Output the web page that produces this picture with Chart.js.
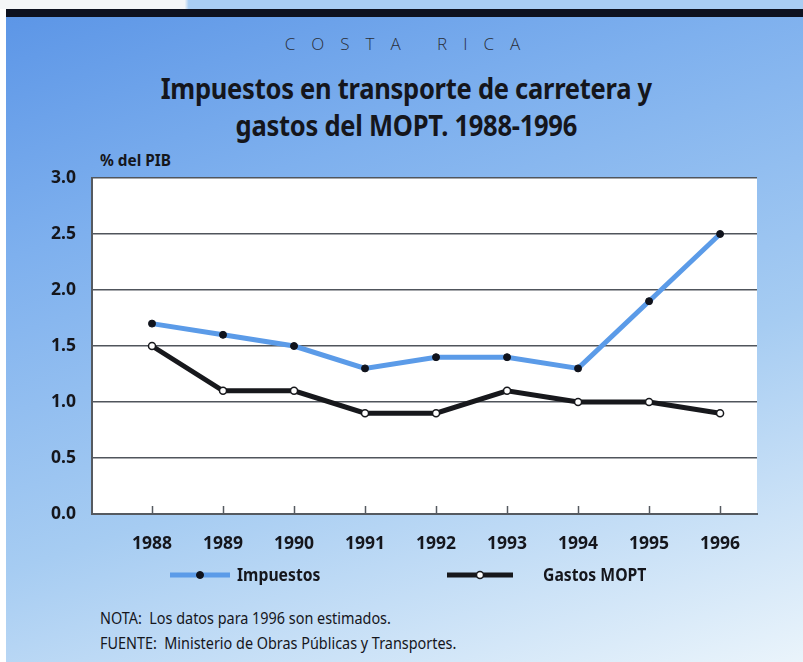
<!DOCTYPE html>
<html>
<head>
<meta charset="utf-8">
<script src="https://cdn.jsdelivr.net/npm/chart.js@4"></script>
<style>
  html, body { margin: 0; padding: 0; }
  body {
    width: 803px; height: 662px; position: relative; overflow: hidden;
    background: #ffffff;
    font-family: "Noto Sans", sans-serif;
  }
  #panel {
    position: absolute; left: 6px; top: 0; width: 797px; height: 662px;
    background: linear-gradient(162deg, #5a94e6 0%, #7eb0ee 28%, #a6ccf2 62%, #eaf4fb 100%);
  }
  #topstrip { position: absolute; left: 0; top: 0; width: 803px; height: 9px;
    background: linear-gradient(90deg, #f4f6f8 0%, #f4f6f8 23%, #a9cdf3 23.5%, #a9cdf3 100%); }
  #band { position: absolute; left: 6px; top: 9px; width: 797px; height: 8px; background: #0e1220; }
  .txt { position: absolute; white-space: nowrap; color: #15161c; }
  #country { left: 9px; width: 803px; top: 32px; text-align: center; font-family: "Open Sans", sans-serif;
    font-weight: 300; font-size: 17px; letter-spacing: 16px; color: #2a2e38; }
  #title { left: 4px; width: 803px; top: 69px; text-align: center; font-weight: bold; font-size: 29px;
    line-height: 37px; letter-spacing: -0.3px; transform: scaleX(0.88); transform-origin: 408px 0; }
  #unit { left: 100px; top: 149px; font-weight: bold; font-size: 16px; transform: scaleX(0.96); transform-origin: 0 0; }
  #notes { left: 100px; top: 606px; font-size: 16px; line-height: 25px; transform: scaleX(0.9); transform-origin: 0 0; }
  canvas { position: absolute; left: 0; top: 0; }
</style>
</head>
<body>
<div id="panel"></div>
<div id="topstrip"></div>
<div id="band"></div>
<div class="txt" id="country">COSTA RICA</div>
<div class="txt" id="title">Impuestos en transporte de carretera y<br>gastos del MOPT. 1988-1996</div>
<div class="txt" id="unit">% del PIB</div>
<div class="txt" id="notes">NOTA:&nbsp; Los datos para 1996 son estimados.<br>FUENTE:&nbsp; Ministerio de Obras Públicas y Transportes.</div>
<div style="position:absolute;left:0;top:0;width:803px;height:662px;">
  <canvas id="chart" width="803" height="662"></canvas>
</div>
<script>
document.addEventListener("DOMContentLoaded", function () {

    const years = [1988, 1989, 1990, 1991, 1992, 1993, 1994, 1995, 1996];
    const impuestos = [1.7, 1.6, 1.5, 1.3, 1.4, 1.4, 1.3, 1.9, 2.5];
    const gastosMopt = [1.5, 1.1, 1.1, 0.9, 0.9, 1.1, 1.0, 1.0, 0.9];
    const yTicks = [0, 0.5, 1.0, 1.5, 2.0, 2.5, 3.0];

    const axisFont = { family: "'Noto Sans', sans-serif", weight: 'bold', size: 17.5 };

    // fondo blanco del área de trazado
    const plotBg = {
        id: 'plotBg',
        beforeDraw(chart) {
            const a = chart.chartArea, ctx = chart.ctx;
            ctx.save();
            ctx.fillStyle = '#ffffff';
            ctx.fillRect(a.left, a.top, a.right - a.left, a.bottom - a.top);
            ctx.restore();
        }
    };

    // marcas de los años hacia dentro del gráfico
    const innerTicks = {
        id: 'innerTicks',
        afterDatasetsDraw(chart) {
            const x = chart.scales.x, a = chart.chartArea, ctx = chart.ctx;
            ctx.save();
            ctx.strokeStyle = '#555a60';
            ctx.lineWidth = 1.5;
            years.forEach(y => {
                const px = Math.round(x.getPixelForValue(y)) + 0.5;
                ctx.beginPath();
                ctx.moveTo(px, a.bottom);
                ctx.lineTo(px, a.bottom - 8);
                ctx.stroke();
            });
            ctx.restore();
        }
    };

    // leyenda: línea con punto y texto (texto algo estrecho)
    const lineLegend = {
        id: 'lineLegend',
        afterDraw(chart) {
            const ctx = chart.ctx;
            const spots = [{ x1: 170, x2: 230, tx: 237 }, { x1: 447, x2: 513, tx: 543 }];
            const y = 575;
            chart.data.datasets.forEach((ds, i) => {
                const s = spots[i];
                ctx.save();
                ctx.strokeStyle = ds.borderColor;
                ctx.lineWidth = ds.borderWidth;
                ctx.beginPath();
                ctx.moveTo(s.x1, y);
                ctx.lineTo(s.x2, y);
                ctx.stroke();
                ctx.beginPath();
                ctx.arc((s.x1 + s.x2) / 2, y, ds.pointRadius, 0, Math.PI * 2);
                ctx.fillStyle = ds.pointBackgroundColor;
                ctx.fill();
                ctx.lineWidth = ds.pointBorderWidth;
                ctx.strokeStyle = ds.pointBorderColor;
                ctx.stroke();
                ctx.translate(s.tx, y + 1);
                ctx.scale(0.85, 1);
                ctx.fillStyle = '#15161c';
                ctx.font = "bold 18.5px 'Noto Sans', sans-serif";
                ctx.textBaseline = 'middle';
                ctx.fillText(ds.label, 0, 0);
                ctx.restore();
            });
        }
    };

    new Chart(document.getElementById('chart'), {
        type: 'line',
        data: {
            datasets: [{
                label: 'Impuestos',
                data: years.map((y, i) => ({ x: y, y: impuestos[i] })),
                borderColor: '#5b9be8',
                borderWidth: 5,
                pointRadius: 3.5,
                pointBackgroundColor: '#10131c',
                pointBorderColor: '#10131c',
                pointBorderWidth: 1,
                tension: 0
            }, {
                label: 'Gastos MOPT',
                data: years.map((y, i) => ({ x: y, y: gastosMopt[i] })),
                borderColor: '#17181c',
                borderWidth: 5,
                pointRadius: 3.5,
                pointBackgroundColor: '#ffffff',
                pointBorderColor: '#17181c',
                pointBorderWidth: 1.5,
                tension: 0
            }]
        },
        options: {
            responsive: false,
            animation: false,
            layout: { padding: { left: 0, right: 46, top: 178, bottom: 98 } },
            plugins: { legend: { display: false }, tooltip: { enabled: false } },
            scales: {
                x: {
                    type: 'linear',
                    min: 1987.155,
                    max: 1996.52,
                    afterFit(scale) { scale.height = 50; },
                    afterBuildTicks(scale) { scale.ticks = years.map(v => ({ value: v })); },
                    grid: { display: false },
                    border: { display: true, color: '#555a60', width: 2 },
                    ticks: {
                        font: axisFont, color: '#15161c', padding: 12,
                        callback: v => String(v), maxRotation: 0
                    }
                },
                y: {
                    min: 0,
                    max: 3,
                    afterFit(scale) { scale.width = 92; },
                    afterBuildTicks(scale) { scale.ticks = yTicks.map(v => ({ value: v })); },
                    grid: { color: '#50555c', lineWidth: 1.5, drawTicks: false },
                    border: { display: true, color: '#555a60', width: 2 },
                    ticks: {
                        font: axisFont, color: '#15161c', padding: 16,
                        callback: v => v.toFixed(1)
                    }
                }
            }
        },
        plugins: [plotBg, innerTicks, lineLegend]
    });
});
</script>
</body>
</html>
